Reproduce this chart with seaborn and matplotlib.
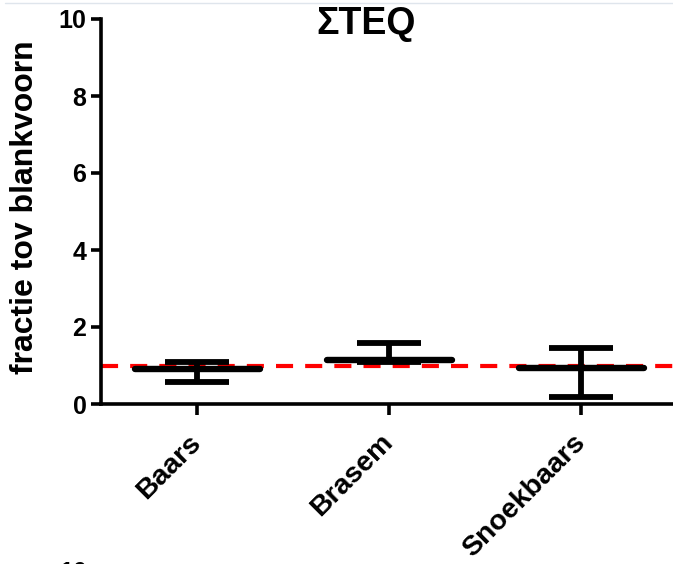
import numpy as np
import pandas as pd
import matplotlib
matplotlib.use("Agg")
import matplotlib.pyplot as plt
from matplotlib.markers import MarkerStyle
from matplotlib.lines import Line2D
import seaborn as sns

# ---- data ----
categories = ["Baars", "Brasem", "Snoekbaars"]
means = [0.91, 1.13, 0.93]
lower = [0.58, 1.10, 0.19]
upper = [1.10, 1.58, 1.45]
reference_level = 1.0
y_ticks = [0, 2, 4, 6, 8, 10]
title = "\u03a3TEQ"
ylabel = "fractie tov blankvoorn"

sns.set_style("ticks")
plt.rcParams["font.family"] = ["Liberation Sans", "DejaVu Sans"]
plt.rcParams["font.weight"] = "bold"
plt.rcParams["text.color"] = "black"
plt.rcParams["axes.labelcolor"] = "black"
plt.rcParams["xtick.color"] = "black"
plt.rcParams["ytick.color"] = "black"
plt.rcParams["xtick.labelcolor"] = "black"
plt.rcParams["ytick.labelcolor"] = "black"

df = pd.DataFrame({"cat": categories, "mean": means, "lo": lower, "hi": upper})

fig = plt.figure(figsize=(6.73, 5.64), dpi=100)
ax = fig.add_axes([101 / 673, 160 / 564, 572 / 673, 385 / 564])

# reference dashed line
ax.axhline(reference_level, color="#ff0000", lw=3.0, linestyle=(0, (4.1, 2.9)),
           zorder=1)

# error bars
m = np.array(means)
yerr = np.vstack([m - np.array(lower), np.array(upper) - m])
ax.errorbar(np.arange(len(categories)), m, yerr=yerr, fmt="none", ecolor="black",
            elinewidth=4.2, capsize=22.7, capthick=4.2, zorder=2)

# mean lines via seaborn
n_before = len(ax.lines)
sns.pointplot(data=df, x="cat", y="mean", order=categories, color="black",
              linestyle="none", marker="_", markersize=90, markeredgewidth=4.6,
              errorbar=None, ax=ax, zorder=3)
for ln in ax.lines[n_before:]:
    ln.set_marker(MarkerStyle("_", capstyle="round"))
    ln.set_zorder(3)

ax.set_xlim(-0.5, 2.479)
ax.set_ylim(0, 10)
ax.set_yticks(y_ticks)
ax.set_yticklabels([str(t) for t in y_ticks], fontsize=18, fontweight="bold",
                   color="black")
ax.set_xticks(range(len(categories)))
ax.set_xticklabels(categories, fontsize=20.5, fontweight="bold", rotation=45,
                   ha="right", va="center", rotation_mode="anchor",
                   color="black")
ax.set_xlabel("")
ax.set_ylabel("")

for s in ["top", "right"]:
    ax.spines[s].set_visible(False)
for s in ["left", "bottom"]:
    ax.spines[s].set_linewidth(2.6)
    ax.spines[s].set_color("black")
ax.tick_params(axis="both", width=2.6, length=7.5, color="black", pad=3)
ax.tick_params(axis="x", length=8, pad=17)

ax.text((366 - 101) / 572, (404 - 24) / 385, title, transform=ax.transAxes,
        ha="center", va="center", fontsize=27, fontweight="bold", color="black")

fig.text(25 / 673, (564 - 207) / 564, ylabel, rotation=90, ha="center",
         va="center", fontsize=23, fontweight="bold", color="black")

# thin frame line at the top
fig.add_artist(Line2D([5 / 673, 1.0], [1 - 2.5 / 564, 1 - 2.5 / 564],
                      transform=fig.transFigure, color="#dfe5ec", lw=1))
# partially visible label at bottom edge
fig.text(73 / 673, 3.5 / 564, "10", ha="center", va="top", fontsize=18,
         fontweight="bold", color="black")

fig.savefig("out.png", dpi=100)
